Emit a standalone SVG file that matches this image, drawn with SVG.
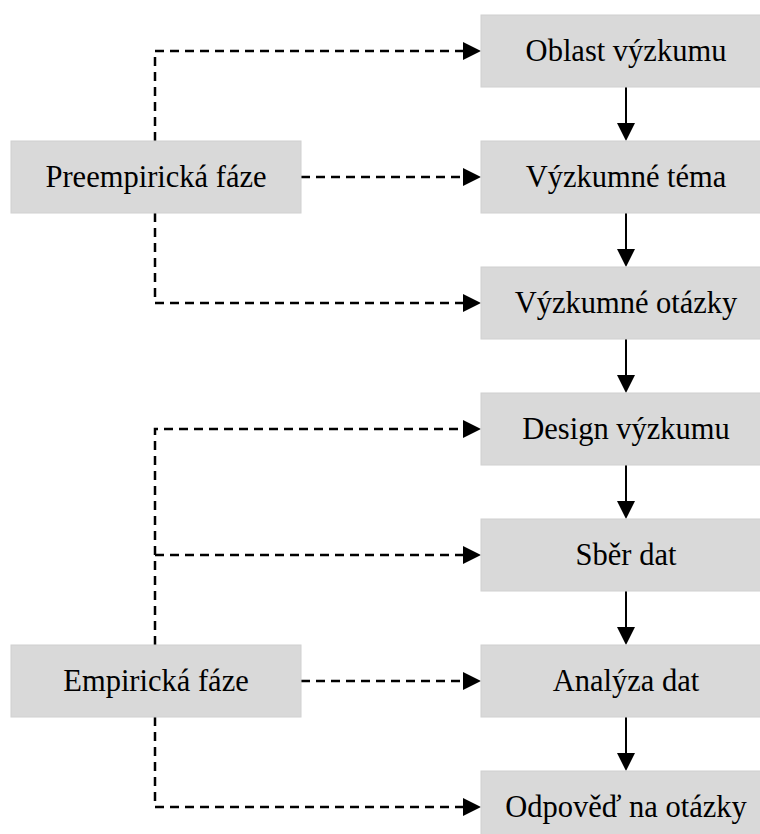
<svg xmlns="http://www.w3.org/2000/svg" width="760" height="834" viewBox="0 0 760 834">
<style>
.box{fill:#d9d9d9;stroke:#d0d0d0;stroke-width:1}
.t{font-family:'Liberation Serif','Times New Roman',serif;font-size:30.5px;fill:#000;text-anchor:middle}
.solid{stroke:#000;stroke-width:2;fill:none}
.dash{stroke:#000;stroke-width:2.5;fill:none;stroke-dasharray:9 6}
</style>
<rect width="760" height="834" fill="#fff"/>
<g id="connectors">
<path class="dash" d="M155,141 V51 H463"/>
<path class="dash" d="M301,177 H463"/>
<path class="dash" d="M155,213 V303 H463"/>
<path class="dash" d="M155,645 V429 H463"/>
<path class="dash" d="M155,555 H463"/>
<path class="dash" d="M301,681 H463"/>
<path class="dash" d="M155,717 V807 H463"/>
<path d="M463,42 L481,51 L463,60 Z"/>
<path d="M463,168 L481,177 L463,186 Z"/>
<path d="M463,294 L481,303 L463,312 Z"/>
<path d="M463,420 L481,429 L463,438 Z"/>
<path d="M463,546 L481,555 L463,564 Z"/>
<path d="M463,672 L481,681 L463,690 Z"/>
<path d="M463,798 L481,807 L463,816 Z"/>
<path class="solid" d="M626,87 V124"/>
<path class="solid" d="M626,213 V250"/>
<path class="solid" d="M626,339 V376"/>
<path class="solid" d="M626,465 V502"/>
<path class="solid" d="M626,591 V628"/>
<path class="solid" d="M626,717 V754"/>
<path d="M617,123 L626,141 L635,123 Z"/>
<path d="M617,249 L626,267 L635,249 Z"/>
<path d="M617,375 L626,393 L635,375 Z"/>
<path d="M617,501 L626,519 L635,501 Z"/>
<path d="M617,627 L626,645 L635,627 Z"/>
<path d="M617,753 L626,771 L635,753 Z"/>
</g>
<g id="preempiricka"><rect class="box" x="11" y="141" width="290" height="72"/><text class="t" x="156" y="187">Preempirická fáze</text></g>
<g id="empiricka"><rect class="box" x="11" y="645" width="290" height="72"/><text class="t" x="156" y="691">Empirická fáze</text></g>
<g id="oblast"><rect class="box" x="481" y="15" width="290" height="72"/><text class="t" x="626" y="61">Oblast výzkumu</text></g>
<g id="tema"><rect class="box" x="481" y="141" width="290" height="72"/><text class="t" x="626" y="187">Výzkumné téma</text></g>
<g id="otazky"><rect class="box" x="481" y="267" width="290" height="72"/><text class="t" x="626" y="313">Výzkumné otázky</text></g>
<g id="design"><rect class="box" x="481" y="393" width="290" height="72"/><text class="t" x="626" y="439">Design výzkumu</text></g>
<g id="sber"><rect class="box" x="481" y="519" width="290" height="72"/><text class="t" x="626" y="565">Sběr dat</text></g>
<g id="analyza"><rect class="box" x="481" y="645" width="290" height="72"/><text class="t" x="626" y="691">Analýza dat</text></g>
<g id="odpoved"><rect class="box" x="481" y="771" width="290" height="72"/><text class="t" x="626" y="817">Odpověď na otázky</text></g>
</svg>
